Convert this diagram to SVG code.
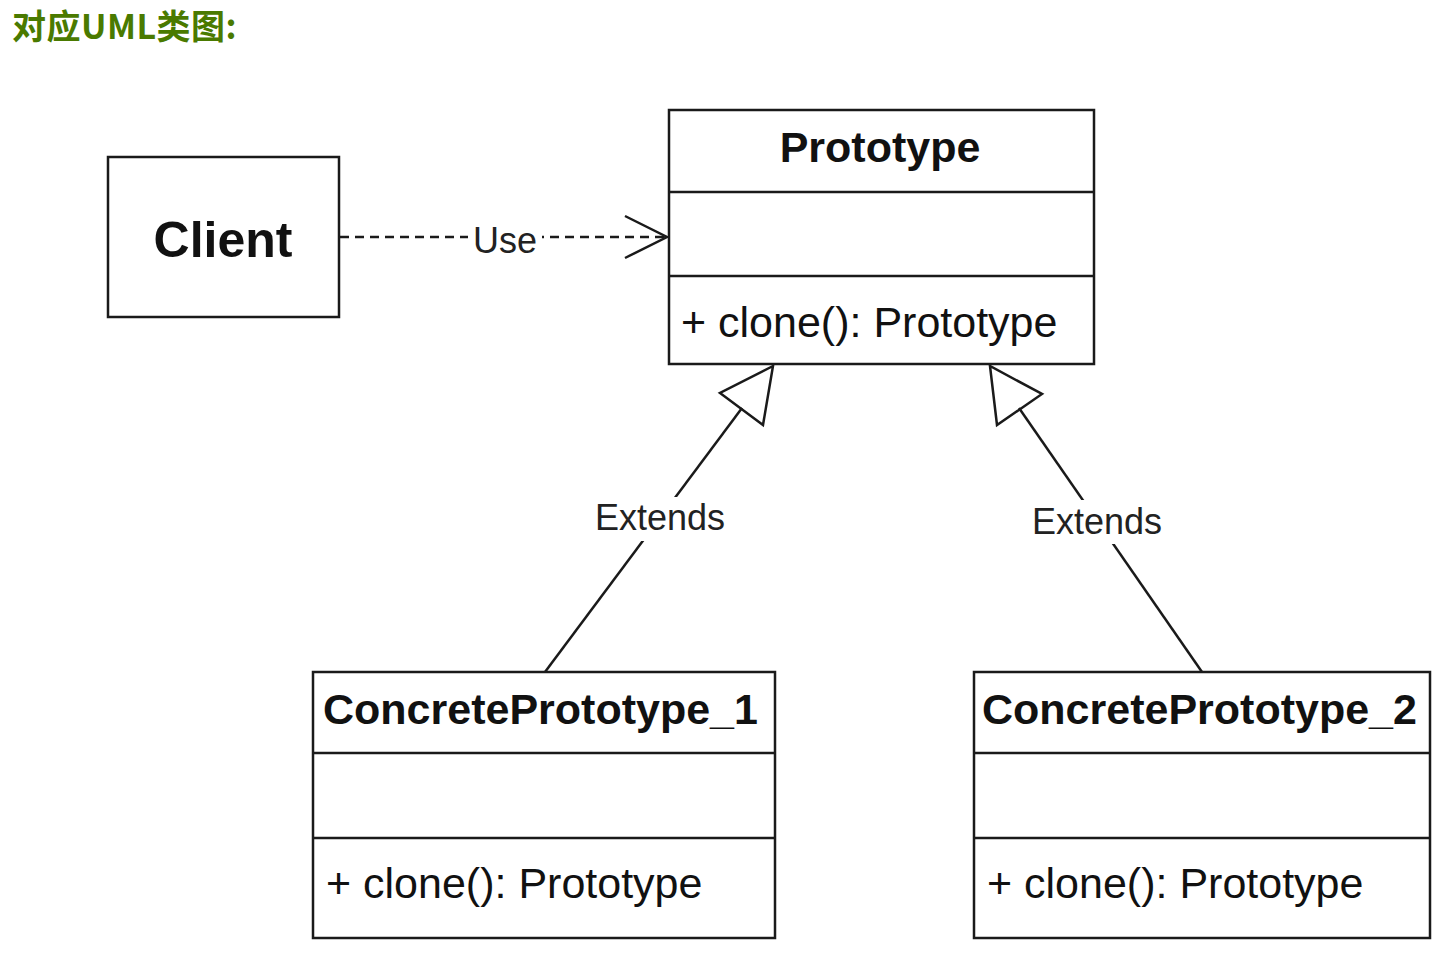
<svg xmlns="http://www.w3.org/2000/svg" width="1454" height="959" viewBox="0 0 1454 959">
  <style>
    .box { fill: #ffffff; stroke: #1a1a1a; stroke-width: 2.5; }
    .div { stroke: #1a1a1a; stroke-width: 2.5; }
    .name { font-family: "Liberation Sans", Arial, sans-serif; font-weight: bold; font-size: 43px; fill: #111; }
    .op { font-family: "Liberation Sans", Arial, sans-serif; font-size: 43px; fill: #111; }
    .lbl { font-family: "Liberation Sans", Arial, sans-serif; font-size: 36px; fill: #222; text-anchor: middle; }
    .edge { fill: none; stroke: #1a1a1a; stroke-width: 2.5; }
    .title { font-family: "Noto Sans CJK SC", "Noto Sans", sans-serif; font-weight: bold; font-size: 34px; letter-spacing: 0.5px; fill: #4a7a00; }
  </style>
  <rect width="1454" height="959" fill="#ffffff"/>

  <text class="title" x="12" y="39">对应UML类图:</text>

  <!-- connectors -->
  <g id="connectors">
    <!-- Client uses Prototype -->
    <g id="use">
      <line class="edge" x1="340" y1="237" x2="666" y2="237" stroke-dasharray="9 6"/>
      <polyline class="edge" points="625,216 667,237 625,258"/>
      <rect x="468" y="216" width="74" height="40" fill="#ffffff"/>
      <text class="lbl" x="505" y="253">Use</text>
    </g>
    <!-- ConcretePrototype_1 extends Prototype -->
    <g id="extends1">
      <line class="edge" x1="545" y1="672" x2="742" y2="408"/>
      <polygon class="edge" fill="#ffffff" points="773,366 720,393 763,425"/>
      <rect x="590" y="497" width="140" height="44" fill="#ffffff"/>
      <text class="lbl" x="660" y="530">Extends</text>
    </g>
    <!-- ConcretePrototype_2 extends Prototype -->
    <g id="extends2">
      <line class="edge" x1="1202" y1="672" x2="1019" y2="408"/>
      <polygon class="edge" fill="#ffffff" points="990,366 997,425 1042,394"/>
      <rect x="1027" y="500" width="140" height="44" fill="#ffffff"/>
      <text class="lbl" x="1097" y="534">Extends</text>
    </g>
  </g>

  <g id="client">
    <rect class="box" x="108" y="157" width="231" height="160"/>
    <text class="name" x="223" y="257" text-anchor="middle" style="font-size:50px">Client</text>
  </g>

  <g id="prototype">
    <rect class="box" x="669" y="110" width="425" height="254"/>
    <line class="div" x1="669" y1="192" x2="1094" y2="192"/>
    <line class="div" x1="669" y1="276" x2="1094" y2="276"/>
    <text class="name" x="880" y="162" text-anchor="middle">Prototype</text>
    <text class="op" x="681" y="337">+ clone(): Prototype</text>
  </g>

  <g id="concrete1">
    <rect class="box" x="313" y="672" width="462" height="266"/>
    <line class="div" x1="313" y1="753" x2="775" y2="753"/>
    <line class="div" x1="313" y1="838" x2="775" y2="838"/>
    <text class="name" x="323" y="724">ConcretePrototype_1</text>
    <text class="op" x="326" y="898">+ clone(): Prototype</text>
  </g>

  <g id="concrete2">
    <rect class="box" x="974" y="672" width="456" height="266"/>
    <line class="div" x1="974" y1="753" x2="1430" y2="753"/>
    <line class="div" x1="974" y1="838" x2="1430" y2="838"/>
    <text class="name" x="982" y="724">ConcretePrototype_2</text>
    <text class="op" x="987" y="898">+ clone(): Prototype</text>
  </g>
</svg>
